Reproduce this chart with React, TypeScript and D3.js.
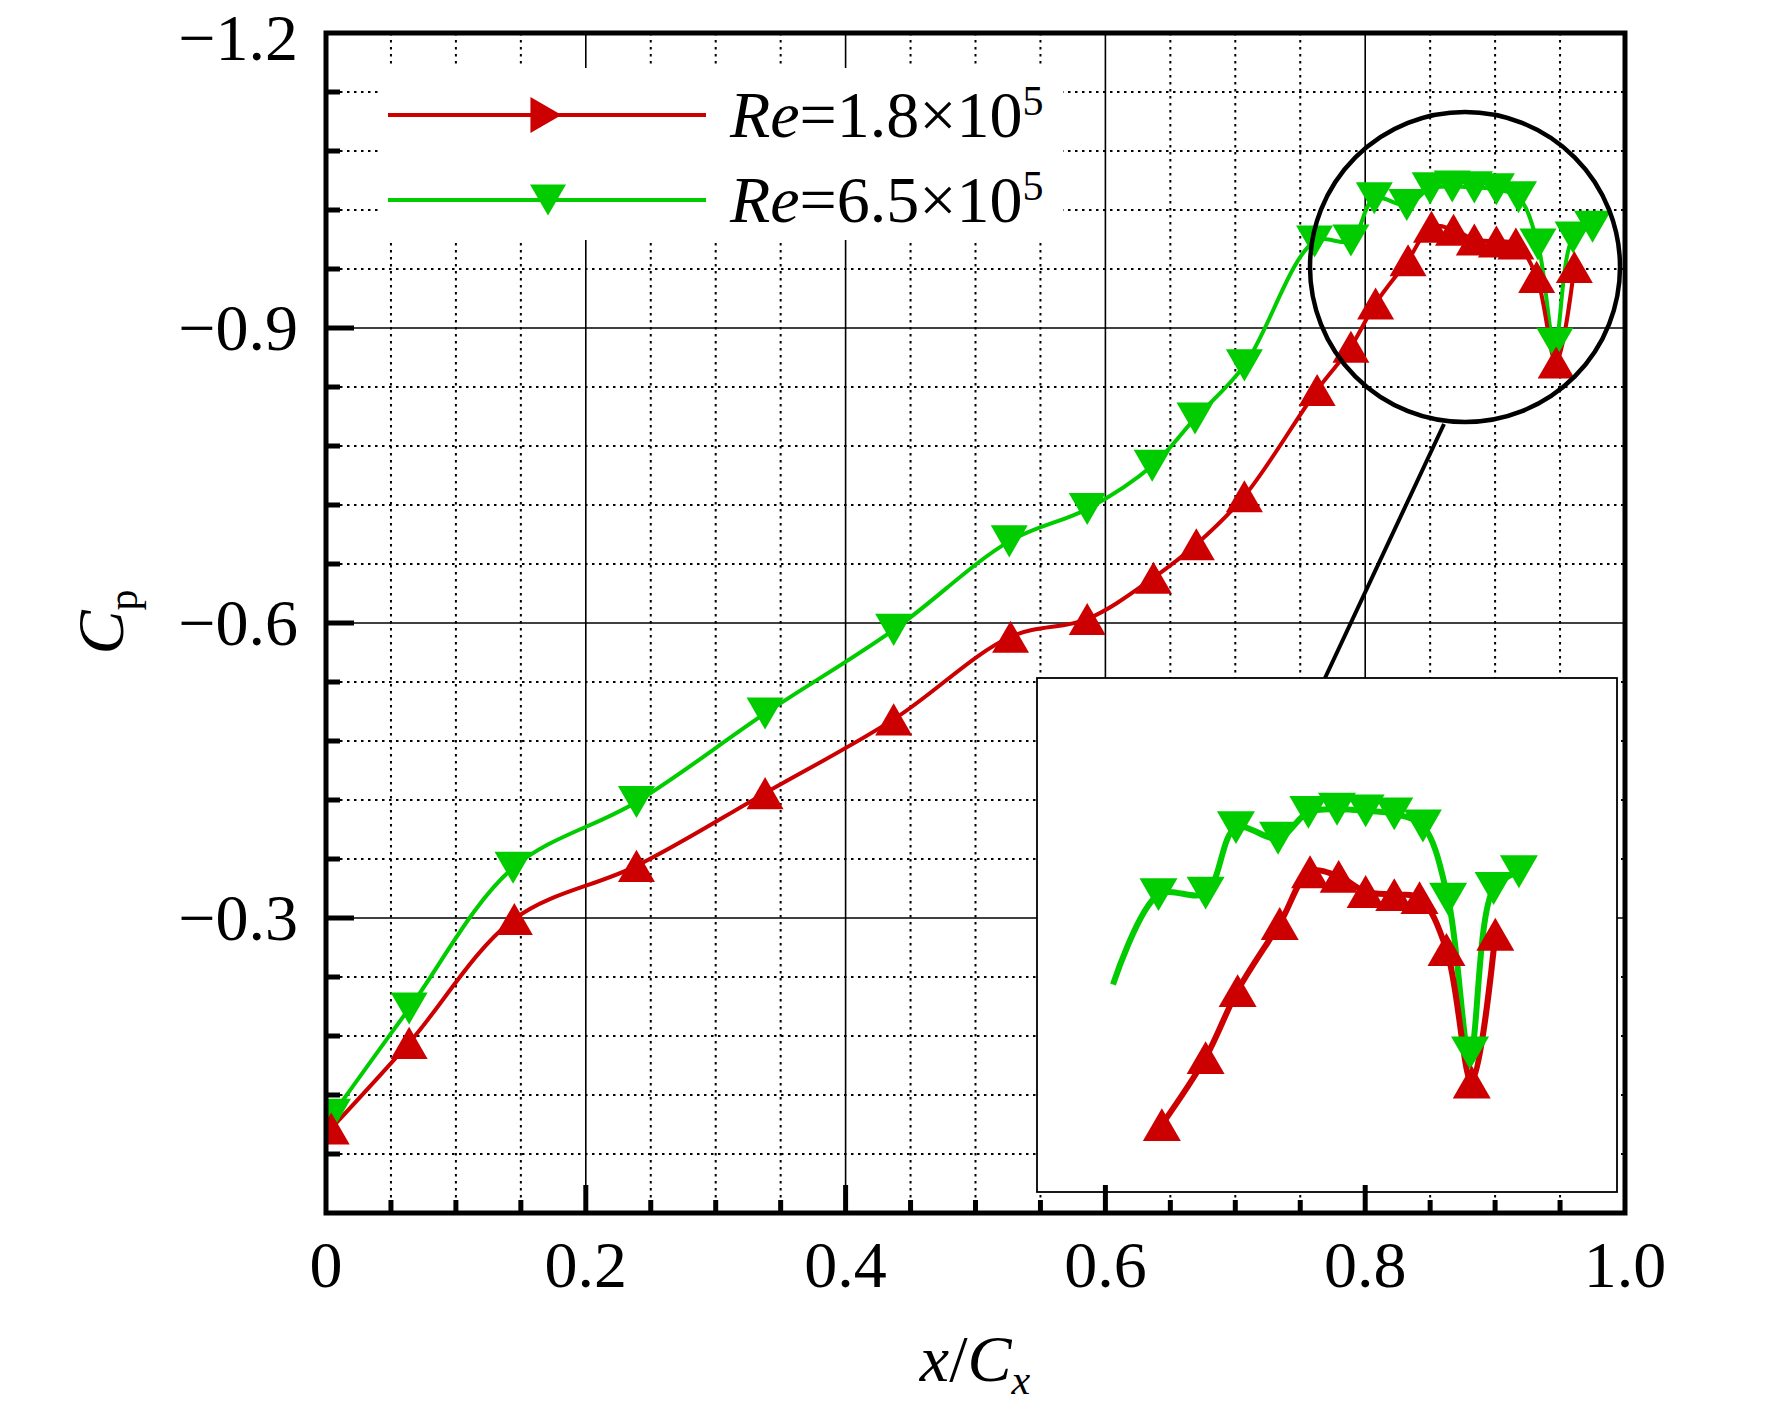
import React from "react";
import * as d3 from "d3";

// ---------------- data ----------------
const redX = [0.004, 0.064, 0.145, 0.239, 0.338, 0.437, 0.527, 0.586, 0.637, 0.670, 0.707, 0.763, 0.789, 0.808, 0.833, 0.851, 0.868, 0.884, 0.901, 0.916, 0.932, 0.947, 0.961];
const redY = [-0.086, -0.173, -0.299, -0.353, -0.427, -0.502, -0.586, -0.604, -0.646, -0.680, -0.729, -0.837, -0.881, -0.925, -0.969, -1.003, -1.000, -0.990, -0.988, -0.986, -0.952, -0.865, -0.962];
const greenX = [0.005, 0.064, 0.144, 0.239, 0.338, 0.437, 0.526, 0.586, 0.636, 0.669, 0.707, 0.761, 0.789, 0.807, 0.832, 0.850, 0.867, 0.884, 0.901, 0.918, 0.933, 0.946, 0.960, 0.975];
const greenY = [-0.100, -0.208, -0.351, -0.418, -0.508, -0.593, -0.683, -0.716, -0.760, -0.808, -0.862, -0.988, -0.989, -1.032, -1.025, -1.042, -1.044, -1.043, -1.041, -1.033, -0.985, -0.884, -0.992, -1.003];

// inset: the magnified view starts here (green line starts at an unmarked point)
const insetGreenStart: [number, number] = [0.734, -0.929];
const insetFromX = 0.755;

const xMajorTicks = [0, 0.2, 0.4, 0.6, 0.8, 1.0];
const xTickLabels = ["0", "0.2", "0.4", "0.6", "0.8", "1.0"];
const yMajorTicks = [-1.2, -0.9, -0.6, -0.3];
const yTickLabels = ["\u22121.2", "\u22120.9", "\u22120.6", "\u22120.3"];
const xMinorStep = 0.05;
const yMinorStep = 0.06;

const seriesNames = ["1.8", "6.5"];
const RED = "#cc0000";
const GREEN = "#00cc00";
const FONT = "'Liberation Serif', 'Times New Roman', serif";

// ---------------- layout ----------------
const W = 1772;
const H = 1415;
const L = 326, R = 1625, T = 33, B = 1213;

const x = d3.scaleLinear().domain([0, 1]).range([L, R]);
const y = d3.scaleLinear().domain([-1.2, 0]).range([T, B]);

// inset (magnified view)
const IN = { x0: 1037, y0: 678, x1: 1617, y1: 1192 };
const xI = d3.scaleLinear().domain([0.734, 1.0]).range([1113, 1561]);
const yI = d3.scaleLinear().domain([-1.1, -0.8]).range([724, 1181]);

const redPts: [number, number][] = redX.map((v, i) => [v, redY[i]]);
const greenPts: [number, number][] = greenX.map((v, i) => [v, greenY[i]]);
const redInset = redPts.filter((p) => p[0] > insetFromX);
const greenInset: [number, number][] = [insetGreenStart, ...greenPts.filter((p) => p[0] > insetFromX)];

const S = 37; // marker side
const tri = (cx: number, cy: number, dir: "up" | "down" | "right", s = S) => {
  const h = s * 0.866;
  if (dir === "up") return `M${cx},${cy - h / 2}L${cx + s / 2},${cy + h / 2}L${cx - s / 2},${cy + h / 2}Z`;
  if (dir === "down") return `M${cx},${cy + h / 2}L${cx + s / 2},${cy - h / 2}L${cx - s / 2},${cy - h / 2}Z`;
  return `M${cx + h / 2},${cy}L${cx - h / 2},${cy - s / 2}L${cx - h / 2},${cy + s / 2}Z`;
};

const near = (a: number, list: number[]) => list.some((b) => Math.abs(a - b) < 1e-6);

export default function App() {
  const curve = d3.curveCatmullRom.alpha(0.5);
  const lineMain = d3
    .line<[number, number]>()
    .x((d) => x(d[0]))
    .y((d) => y(d[1]))
    .curve(curve);
  const lineInset = d3
    .line<[number, number]>()
    .x((d) => xI(d[0]))
    .y((d) => yI(d[1]))
    .curve(curve);

  const xMinor = d3.range(1, 20).map((i) => +(i * xMinorStep).toFixed(3)).filter((v) => !near(v, xMajorTicks));
  const yMinor = d3.range(1, 20).map((i) => +(-1.2 + i * yMinorStep).toFixed(3)).filter((v) => !near(v, yMajorTicks));
  const xMajInner = xMajorTicks.filter((v) => v > 0 && v < 1);
  const yMajInner = yMajorTicks.filter((v) => v > -1.2);

  const dot = "2.5 4.5";

  return (
    <svg width={W} height={H} style={{ position: "absolute", left: 0, top: 0, background: "#fff" }} fontFamily={FONT}>
      <defs>
        <clipPath id="plotClip">
          <rect x={L} y={T} width={R - L} height={B - T} />
        </clipPath>
        <clipPath id="insetClip">
          <rect x={IN.x0} y={IN.y0} width={IN.x1 - IN.x0} height={IN.y1 - IN.y0} />
        </clipPath>
      </defs>
      <rect x={0} y={0} width={W} height={H} fill="#fff" />

      {/* minor grid */}
      <g stroke="#000" strokeWidth={2} strokeDasharray={dot}>
        {xMinor.map((v) => (
          <line key={"xm" + v} x1={x(v)} x2={x(v)} y1={T} y2={B} />
        ))}
        {yMinor.map((v) => (
          <line key={"ym" + v} x1={L} x2={R} y1={y(v)} y2={y(v)} />
        ))}
      </g>
      {/* major grid */}
      <g stroke="#000" strokeWidth={1.6}>
        {xMajInner.map((v) => (
          <line key={"xM" + v} x1={x(v)} x2={x(v)} y1={T} y2={B} />
        ))}
        {yMajInner.map((v) => (
          <line key={"yM" + v} x1={L} x2={R} y1={y(v)} y2={y(v)} />
        ))}
      </g>

      {/* legend background */}
      <rect x={379} y={68} width={684} height={172} fill="#fff" />

      {/* main data */}
      <g clipPath="url(#plotClip)">
        <path d={lineMain(greenPts) || ""} fill="none" stroke={GREEN} strokeWidth={4} />
        <path d={lineMain(redPts) || ""} fill="none" stroke={RED} strokeWidth={4} />
        {greenPts.map((p, i) => (
          <path key={"g" + i} d={tri(x(p[0]), y(p[1]), "down")} fill={GREEN} />
        ))}
        {redPts.map((p, i) => (
          <path key={"r" + i} d={tri(x(p[0]), y(p[1]), "up")} fill={RED} />
        ))}
      </g>

      {/* magnifier circle and connector */}
      <circle cx={1465} cy={267} r={155} fill="none" stroke="#000" strokeWidth={4.5} />
      <line x1={1444} y1={424} x2={1325} y2={IN.y0} stroke="#000" strokeWidth={4} />

      {/* inset */}
      <rect x={IN.x0} y={IN.y0} width={IN.x1 - IN.x0} height={IN.y1 - IN.y0} fill="#fff" stroke="#000" strokeWidth={1.8} />
      <g clipPath="url(#insetClip)">
        <path d={lineInset(greenInset) || ""} fill="none" stroke={GREEN} strokeWidth={6} />
        <path d={lineInset(redInset) || ""} fill="none" stroke={RED} strokeWidth={6} />
        {greenInset.slice(1).map((p, i) => (
          <path key={"gi" + i} d={tri(xI(p[0]), yI(p[1]), "down", 38)} fill={GREEN} />
        ))}
        {redInset.map((p, i) => (
          <path key={"ri" + i} d={tri(xI(p[0]), yI(p[1]), "up", 38)} fill={RED} />
        ))}
      </g>

      {/* frame */}
      <rect x={L} y={T} width={R - L} height={B - T} fill="none" stroke="#000" strokeWidth={5} />

      {/* ticks */}
      <g stroke="#000" strokeWidth={5}>
        {yMinor.map((v) => (
          <line key={"ty" + v} x1={L} x2={L + 14} y1={y(v)} y2={y(v)} />
        ))}
        {yMajInner.map((v) => (
          <line key={"tY" + v} x1={L} x2={L + 28} y1={y(v)} y2={y(v)} />
        ))}
        {xMinor.map((v) => (
          <line key={"tx" + v} x1={x(v)} x2={x(v)} y1={B} y2={B - 13} />
        ))}
        {xMajInner.map((v) => (
          <line key={"tX" + v} x1={x(v)} x2={x(v)} y1={B} y2={B - 28} />
        ))}
      </g>

      {/* tick labels */}
      <g fontSize={66} fill="#000">
        {yMajorTicks.map((v, i) => (
          <text key={"yl" + v} x={298} y={Math.max(y(v) + 22, 60)} textAnchor="end">
            {yTickLabels[i]}
          </text>
        ))}
        {xMajorTicks.map((v, i) => (
          <text key={"xl" + v} x={x(v)} y={1287} textAnchor="middle">
            {xTickLabels[i]}
          </text>
        ))}
      </g>

      {/* axis titles */}
      <text x={975} y={1381} textAnchor="middle" fontSize={66}>
        <tspan fontStyle="italic">x</tspan>
        <tspan>/</tspan>
        <tspan fontStyle="italic">C</tspan>
        <tspan fontStyle="italic" fontSize={42} dy={13}>x</tspan>
      </text>
      <text transform="translate(123,622) rotate(-90)" textAnchor="middle" fontSize={66}>
        <tspan fontStyle="italic">C</tspan>
        <tspan fontSize={42} dy={14}>p</tspan>
      </text>

      {/* legend */}
      <g>
        <line x1={388} x2={706} y1={115} y2={115} stroke={RED} strokeWidth={4} />
        <path d={tri(546, 115, "right", 36)} fill={RED} />
        <line x1={388} x2={706} y1={200} y2={200} stroke={GREEN} strokeWidth={4} />
        <path d={tri(548, 200, "down", 36)} fill={GREEN} />
        {seriesNames.map((s, i) => (
          <text key={"lg" + i} x={730} y={137 + i * 85} fontSize={66}>
            <tspan fontStyle="italic">Re</tspan>
            <tspan>={s}×10</tspan>
            <tspan fontSize={42} dy={-22}>5</tspan>
          </text>
        ))}
      </g>
    </svg>
  );
}
